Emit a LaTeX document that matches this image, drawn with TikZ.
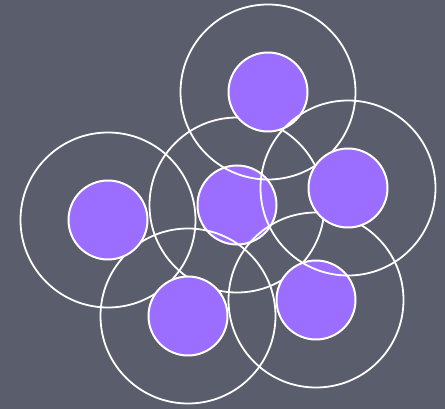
\documentclass[tikz,border=0pt]{standalone}
\definecolor{bg}{RGB}{90,93,107}
\definecolor{disc}{RGB}{156,110,255}
\tikzset{
  core/.style={circle, fill=disc, draw=white, line width=2pt, minimum size=79pt, inner sep=0pt},
  halo/.style={circle, draw=white, line width=1.8pt, minimum size=175pt, inner sep=0pt}
}
\begin{document}
\begin{tikzpicture}[x=1pt,y=-1pt]
\fill[bg] (0,0) rectangle (445,409);
\useasboundingbox (0,0) rectangle (445,409);
% coordinates
\coordinate (cm) at (237,205);
\coordinate (ct) at (268,92);
\coordinate (cl) at (108,220);
\coordinate (cr) at (348,188);
\coordinate (cbl) at (188,316);
\coordinate (cbr) at (316,300);
% middle disc first
\node[core] (pm) at (cm) {};
% halos
\node[halo] (rm) at (cm) {};
\node[halo] (rt) at (ct) {};
\node[halo] (rl) at (cl) {};
\node[halo] (rbl) at (cbl) {};
\node[halo] (rbr) at (cbr) {};
% other discs
\node[core] (pl) at (cl) {};
\node[core] (pbl) at (cbl) {};
\node[core] (pt) at (ct) {};
\node[core] (pr) at (cr) {};
\node[core] (pbr) at (cbr) {};
% last halo
\node[halo] (rr) at (cr) {};
\end{tikzpicture}
\end{document}
